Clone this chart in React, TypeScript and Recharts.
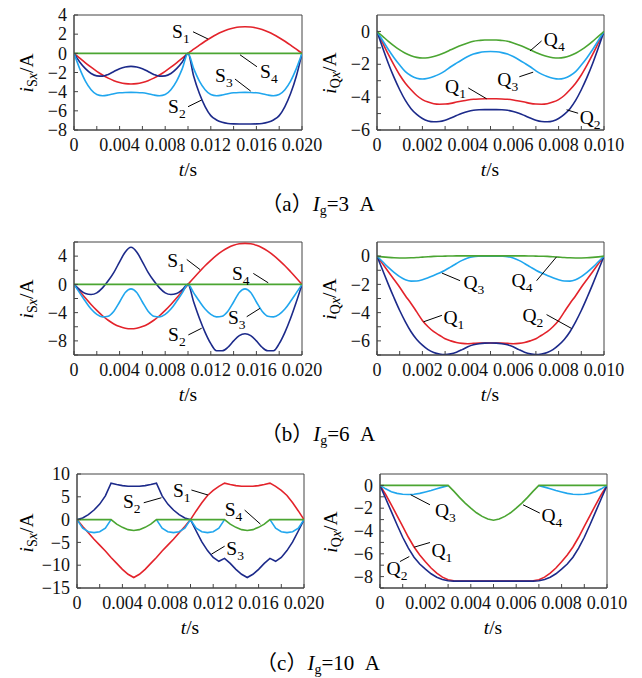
import React from 'react'
import { LineChart, Line, XAxis, YAxis, ReferenceArea, ReferenceLine, ReferenceDot } from 'recharts'

// time samples (s)
const tLong = [0, 0.0005, 0.001, 0.0015, 0.002, 0.0025, 0.003, 0.0035, 0.004, 0.0045, 0.005, 0.0055, 0.006, 0.0065, 0.007, 0.0075, 0.008, 0.0085, 0.009, 0.0095, 0.01, 0.0105, 0.011, 0.0115, 0.012, 0.0125, 0.013, 0.0135, 0.014, 0.0145, 0.015, 0.0155, 0.016, 0.0165, 0.017, 0.0175, 0.018, 0.0185, 0.019, 0.0195, 0.02]
const tShort = [0, 0.00025, 0.0005, 0.00075, 0.001, 0.00125, 0.0015, 0.00175, 0.002, 0.00225, 0.0025, 0.00275, 0.003, 0.00325, 0.0035, 0.00375, 0.004, 0.00425, 0.0045, 0.00475, 0.005, 0.00525, 0.0055, 0.00575, 0.006, 0.00625, 0.0065, 0.00675, 0.007, 0.00725, 0.0075, 0.00775, 0.008, 0.00825, 0.0085, 0.00875, 0.009, 0.00925, 0.0095, 0.00975, 0.01]

const xTicksLong = [0, 0.002, 0.004, 0.006, 0.008, 0.01, 0.012, 0.014, 0.016, 0.018, 0.02]
const xTicksShort = [0, 0.001, 0.002, 0.003, 0.004, 0.005, 0.006, 0.007, 0.008, 0.009, 0.01]

// (a) Ig = 3 A
const aS1 = [0, -0.5, -0.99, -1.45, -1.88, -2.26, -2.59, -2.85, -3.04, -3.16, -3.2, -3.16, -3.04, -2.85, -2.59, -2.26, -1.88, -1.45, -0.99, -0.5, 0, 0.43, 0.86, 1.26, 1.63, 1.97, 2.25, 2.48, 2.64, 2.75, 2.78, 2.75, 2.64, 2.48, 2.25, 1.97, 1.63, 1.26, 0.86, 0.43, 0]
const aS2 = [0, -0.9, -1.6, -2.1, -2.35, -2.38, -2.2, -1.9, -1.6, -1.42, -1.36, -1.42, -1.6, -1.9, -2.2, -2.38, -2.35, -2.1, -1.6, -0.9, 0, -2.4, -4.2, -5.55, -6.5, -6.95, -7.2, -7.32, -7.36, -7.37, -7.37, -7.37, -7.36, -7.32, -7.2, -6.95, -6.5, -5.55, -4.2, -2.4, 0]
const aS3 = [0, -1.6, -2.9, -3.8, -4.3, -4.42, -4.35, -4.22, -4.12, -4.08, -4.07, -4.08, -4.12, -4.22, -4.35, -4.42, -4.3, -3.8, -2.9, -1.6, 0, -1.6, -2.9, -3.8, -4.3, -4.42, -4.35, -4.22, -4.12, -4.08, -4.07, -4.08, -4.12, -4.22, -4.35, -4.42, -4.3, -3.8, -2.9, -1.6, 0]
const aS4 = [0, 0, 0, 0, 0, 0, 0, 0, 0, 0, 0, 0, 0, 0, 0, 0, 0, 0, 0, 0, 0, 0, 0, 0, 0, 0, 0, 0, 0, 0, 0, 0, 0, 0, 0, 0, 0, 0, 0, 0, 0]
const aQ1 = [0, -0.7, -1.4, -2.05, -2.65, -3.15, -3.55, -3.9, -4.15, -4.3, -4.4, -4.43, -4.42, -4.38, -4.3, -4.23, -4.17, -4.13, -4.11, -4.1, -4.1, -4.1, -4.11, -4.13, -4.17, -4.23, -4.3, -4.38, -4.42, -4.43, -4.4, -4.3, -4.15, -3.9, -3.55, -3.15, -2.65, -2.05, -1.4, -0.7, 0]
const aQ2 = [0, -1.0, -1.95, -2.8, -3.55, -4.2, -4.7, -5.05, -5.3, -5.45, -5.5, -5.48, -5.4, -5.27, -5.12, -4.98, -4.87, -4.8, -4.77, -4.76, -4.76, -4.76, -4.77, -4.8, -4.87, -4.98, -5.12, -5.27, -5.4, -5.48, -5.5, -5.45, -5.3, -5.05, -4.7, -4.2, -3.55, -2.8, -1.95, -1.0, 0]
const aQ3 = [0, -0.55, -1.1, -1.6, -2.05, -2.45, -2.7, -2.85, -2.9, -2.85, -2.75, -2.6, -2.4, -2.15, -1.93, -1.72, -1.53, -1.38, -1.29, -1.24, -1.22, -1.24, -1.29, -1.38, -1.53, -1.72, -1.93, -2.15, -2.4, -2.6, -2.75, -2.85, -2.9, -2.85, -2.7, -2.45, -2.05, -1.6, -1.1, -0.55, 0]
const aQ4 = [0, -0.3, -0.6, -0.88, -1.12, -1.33, -1.48, -1.58, -1.62, -1.6, -1.53, -1.42, -1.28, -1.12, -0.96, -0.82, -0.7, -0.6, -0.55, -0.52, -0.52, -0.52, -0.55, -0.6, -0.7, -0.82, -0.96, -1.12, -1.28, -1.42, -1.53, -1.6, -1.62, -1.58, -1.48, -1.33, -1.12, -0.88, -0.6, -0.3, 0]

// (b) Ig = 6 A
const bS1 = [0, -0.98, -1.94, -2.85, -3.69, -4.44, -5.08, -5.6, -5.97, -6.2, -6.28, -6.2, -5.97, -5.6, -5.08, -4.44, -3.69, -2.85, -1.94, -0.98, 0, 0.91, 1.79, 2.64, 3.41, 4.11, 4.7, 5.18, 5.53, 5.74, 5.81, 5.74, 5.53, 5.18, 4.7, 4.11, 3.41, 2.64, 1.79, 0.91, 0]
const bS2 = [0, -0.75, -1.3, -1.44, -1.2, -0.5, 0.5, 1.7, 3.2, 4.6, 5.25, 4.6, 3.2, 1.7, 0.5, -0.5, -1.2, -1.44, -1.3, -0.75, 0, -2.5, -4.8, -6.8, -8.4, -9.4, -9.4, -8.9, -8.0, -7.25, -7.0, -7.25, -8.0, -8.9, -9.4, -9.4, -8.4, -6.8, -4.8, -2.5, 0]
const bS3 = [0, -1.2, -2.4, -3.5, -4.25, -4.6, -4.5, -3.8, -2.5, -1.15, -0.64, -1.15, -2.5, -3.8, -4.5, -4.6, -4.25, -3.5, -2.4, -1.2, 0, -1.2, -2.4, -3.5, -4.25, -4.6, -4.5, -3.8, -2.5, -1.15, -0.64, -1.15, -2.5, -3.8, -4.5, -4.6, -4.25, -3.5, -2.4, -1.2, 0]
const bS4 = [0, 0, 0, 0, 0, 0, 0, 0, 0, 0, 0, 0, 0, 0, 0, 0, 0, 0, 0, 0, 0, 0, 0, 0, 0, 0, 0, 0, 0, 0, 0, 0, 0, 0, 0, 0, 0, 0, 0, 0, 0]
const bQ1 = [0, -0.55, -1.1, -1.65, -2.2, -2.8, -3.35, -3.95, -4.55, -5.0, -5.35, -5.6, -5.85, -6.0, -6.12, -6.18, -6.2, -6.18, -6.16, -6.15, -6.15, -6.15, -6.16, -6.18, -6.2, -6.18, -6.12, -6.0, -5.85, -5.6, -5.35, -5.0, -4.55, -3.95, -3.35, -2.8, -2.2, -1.65, -1.1, -0.55, 0]
const bQ2 = [0, -1.0, -2.0, -2.95, -3.85, -4.65, -5.35, -5.9, -6.3, -6.62, -6.82, -6.93, -6.97, -6.92, -6.8, -6.62, -6.42, -6.28, -6.2, -6.16, -6.15, -6.16, -6.2, -6.28, -6.42, -6.62, -6.8, -6.92, -6.97, -6.93, -6.82, -6.62, -6.3, -5.9, -5.35, -4.65, -3.85, -2.95, -2.0, -1.0, 0]
const bQ3 = [0, -0.4, -0.8, -1.15, -1.45, -1.67, -1.77, -1.76, -1.67, -1.53, -1.37, -1.2, -1.0, -0.76, -0.52, -0.3, -0.13, -0.04, -0.01, 0, 0, 0, -0.01, -0.04, -0.13, -0.3, -0.52, -0.76, -1.0, -1.2, -1.37, -1.53, -1.67, -1.76, -1.77, -1.67, -1.45, -1.15, -0.8, -0.4, 0]
const bQ4 = [0, -0.05, -0.09, -0.12, -0.13, -0.13, -0.12, -0.1, -0.07, -0.04, -0.02, -0.01, 0, 0.01, 0.02, 0.02, 0.02, 0.02, 0.02, 0.02, 0.02, 0.02, 0.02, 0.02, 0.02, 0.02, 0.02, 0.01, 0, -0.01, -0.02, -0.04, -0.07, -0.1, -0.12, -0.13, -0.13, -0.12, -0.09, -0.05, 0]

// (c) Ig = 10 A  (navy / sky lines swap labels between half periods)
const cS1 = [0, -1.5, -2.9, -4.3, -5.6, -6.9, -8.3, -9.6, -10.9, -12.0, -12.7, -12.0, -10.9, -9.6, -8.3, -6.9, -5.6, -4.3, -2.9, -1.5, 0, 1.9, 3.7, 5.3, 6.4, 7.3, 8.0, 7.7, 7.45, 7.32, 7.3, 7.32, 7.45, 7.7, 8.0, 7.3, 6.4, 5.3, 3.7, 1.9, 0]
const cNavy = [0, 0.35, 1.1, 2.1, 3.4, 5.2, 8.0, 7.7, 7.45, 7.32, 7.3, 7.32, 7.45, 7.7, 8.0, 5.2, 3.4, 2.1, 1.1, 0.35, 0, -2.5, -4.9, -6.8, -8.3, -9.15, -8.5, -9.6, -10.9, -12.0, -12.7, -12.0, -10.9, -9.6, -8.5, -9.15, -8.3, -6.8, -4.9, -2.5, 0]
const cSky = [0, -1.9, -2.65, -2.85, -2.65, -1.9, 0, null, null, null, null, null, null, null, 0, -1.9, -2.65, -2.85, -2.65, -1.9, 0, -1.9, -2.65, -2.85, -2.65, -1.9, 0, null, null, null, null, null, null, null, 0, -1.9, -2.65, -2.85, -2.65, -1.9, 0]
const cS4 = [0, 0, 0, 0, 0, 0, 0, -1.0, -1.7, -2.2, -2.4, -2.2, -1.7, -1.0, 0, 0, 0, 0, 0, 0, 0, 0, 0, 0, 0, 0, 0, -1.0, -1.7, -2.2, -2.4, -2.2, -1.7, -1.0, 0, 0, 0, 0, 0, 0, 0]
const cQ1 = [0, -0.8, -1.7, -2.65, -3.6, -4.55, -5.4, -6.1, -6.7, -7.25, -7.7, -8.05, -8.27, -8.37, -8.4, -8.4, -8.4, -8.4, -8.4, -8.4, -8.4, -8.4, -8.4, -8.4, -8.4, -8.4, -8.4, -8.37, -8.27, -8.05, -7.7, -7.25, -6.7, -6.1, -5.4, -4.55, -3.6, -2.65, -1.7, -0.8, 0]
const cQ2 = [0, -1.15, -2.3, -3.45, -4.55, -5.5, -6.3, -6.9, -7.35, -7.75, -8.05, -8.25, -8.37, -8.4, -8.4, -8.4, -8.4, -8.4, -8.4, -8.4, -8.4, -8.4, -8.4, -8.4, -8.4, -8.4, -8.4, -8.4, -8.37, -8.25, -8.05, -7.75, -7.35, -6.9, -6.3, -5.5, -4.55, -3.45, -2.3, -1.15, 0]
const cQ3 = [0, -0.3, -0.55, -0.7, -0.78, -0.8, -0.77, -0.7, -0.58, -0.45, -0.3, -0.15, -0.03, null, null, null, null, null, null, null, null, null, null, null, null, null, null, null, -0.03, -0.15, -0.3, -0.45, -0.58, -0.7, -0.77, -0.8, -0.78, -0.7, -0.55, -0.3, 0]
const cQ4 = [0, 0, 0, 0, 0, 0, 0, 0, 0, 0, 0, 0, 0, -0.5, -1.05, -1.55, -2.0, -2.4, -2.72, -2.95, -3.05, -2.95, -2.72, -2.4, -2.0, -1.55, -1.05, -0.5, 0, 0, 0, 0, 0, 0, 0, 0, 0, 0, 0, 0, 0]

const RED = '#e3232b'
const NAVY = '#1c2a8a'
const SKY = '#20a6ee'
const GREEN = '#4ba532'
const FONT = '"Liberation Serif", "Times New Roman", serif'
const TICK_FS = 18

const YW = 70
const MT = 10
const MR = 30
const XH = 30

type Series = { key: string; values: (number | null)[]; color: string }
type Note = { name: string; sub: string; at: [number, number]; lead: [number, number, number, number] }

function NoteLabel(props: any) {
  const vb = props.viewBox || {}
  return (
    <text x={vb.x} y={vb.y} fontSize={19.5} fill="#000" fontFamily={FONT}>
      {props.name}
      <tspan dy={5} fontSize={13.5}>{props.sub}</tspan>
    </text>
  )
}

function XTick(props: any) {
  const { x, y, payload, fmt } = props
  return (
    <text x={x} y={y} dy={12.5} textAnchor="middle" fontSize={TICK_FS} fontFamily={FONT} fill="#111">
      {fmt(payload.value)}
    </text>
  )
}

function YTick(props: any) {
  const { x, y, payload, fmt } = props
  return (
    <text x={x} y={y} dy={6.2} textAnchor="end" fontSize={TICK_FS} fontFamily={FONT} fill="#111">
      {fmt(payload.value)}
    </text>
  )
}

function Panel(p: {
  left: number; top: number; w: number; h: number
  times: number[]; xTicks: number[]; xEvery: number
  yDomain: [number, number]; yTicks: number[]; yLabeled: number[]
  curve: 'monotone' | 'linear'; series: Series[]; notes: Note[]
}) {
  const data = p.times.map((t, i) => {
    const row: any = { t }
    p.series.forEach(s => { row[s.key] = s.values[i] })
    return row
  })
  const xMax = p.xTicks[p.xTicks.length - 1]
  const fmtX = (v: number) => {
    const k = Math.round(v * 1000)
    if (k % p.xEvery !== 0) return ''
    return k === 0 ? '0' : (k / 1000).toFixed(3)
  }
  const fmtY = (v: number) => {
    if (!p.yLabeled.includes(v)) return ''
    return v < 0 ? '\u2212' + (-v) : String(v)
  }
  return (
    <div style={{ position: 'absolute', left: p.left - YW, top: p.top - MT }}>
      <LineChart width={p.w + YW + MR} height={p.h + MT + XH} data={data}
        margin={{ top: MT, right: MR, left: 0, bottom: 0 }}>
        <XAxis dataKey="t" type="number" domain={[0, xMax]} ticks={p.xTicks} interval={0}
          tickSize={-4} tickMargin={12} height={XH} allowDataOverflow
          stroke="#444" tick={<XTick fmt={fmtX} />} />
        <YAxis type="number" domain={p.yDomain} ticks={p.yTicks} interval={0}
          tickSize={-4} tickMargin={11} width={YW} allowDataOverflow
          stroke="#444" tick={<YTick fmt={fmtY} />} />
        <ReferenceArea x1={0} x2={xMax} y1={p.yDomain[0]} y2={p.yDomain[1]}
          fill="none" stroke="#444" strokeWidth={1} ifOverflow="visible" />
        {p.series.map(s => (
          <Line key={s.key} dataKey={s.key} type={p.curve} stroke={s.color} strokeWidth={1.6}
            dot={false} activeDot={false} isAnimationActive={false} connectNulls={false} />
        ))}
        {p.notes.map((n, i) => (
          <ReferenceLine key={'l' + i} ifOverflow="visible" stroke="#000" strokeWidth={1}
            segment={[{ x: n.lead[0], y: n.lead[1] }, { x: n.lead[2], y: n.lead[3] }]} />
        ))}
        {p.notes.map((n, i) => (
          <ReferenceDot key={'d' + i} x={n.at[0]} y={n.at[1]} r={0} fill="none" stroke="none"
            ifOverflow="visible" label={<NoteLabel name={n.name} sub={n.sub} />} />
        ))}
      </LineChart>
    </div>
  )
}

function YTitle({ x, y, q }: { x: number; y: number; q: string }) {
  return (
    <text transform={`translate(${x},${y}) rotate(-90)`} textAnchor="middle" fontSize={19.5} fontFamily={FONT}>
      <tspan fontStyle="italic">i</tspan>
      <tspan dy={4} fontSize={14}>{q}</tspan>
      <tspan fontSize={14} fontStyle="italic">x</tspan>
      <tspan dy={-4}>/A</tspan>
    </text>
  )
}

function XTitle({ x, y }: { x: number; y: number }) {
  return (
    <text x={x} y={y} textAnchor="middle" fontSize={19.5} fontFamily={FONT}>
      <tspan fontStyle="italic">t</tspan>/s
    </text>
  )
}

function Caption({ y, tag, amps }: { y: number; tag: string; amps: string }) {
  return (
    <text x={318} y={y} textAnchor="middle" fontSize={21} fontFamily={'"Liberation Serif", "Noto Sans CJK SC", serif'}>
      {'\uff08' + tag + '\uff09'}
      <tspan fontStyle="italic">I</tspan>
      <tspan dy={4} fontSize={14}>g</tspan>
      <tspan dy={-4}>{'=' + amps + '\u2002A'}</tspan>
    </text>
  )
}

export default function App() {
  const left = { times: tLong, xTicks: xTicksLong, xEvery: 4 }
  const right = { times: tShort, xTicks: xTicksShort, xEvery: 2 }
  return (
    <div style={{ position: 'absolute', left: 0, top: 0, width: 642, height: 678, background: '#fff', fontFamily: FONT }}>
      <Panel {...left} left={74} top={15} w={228} h={115} curve="monotone"
        yDomain={[-8, 4]} yTicks={[-8, -6, -4, -2, 0, 2, 4]} yLabeled={[-8, -6, -4, -2, 0, 2, 4]}
        series={[{ key: 's1', values: aS1, color: RED }, { key: 's2', values: aS2, color: NAVY }, { key: 's3', values: aS3, color: SKY }, { key: 's4', values: aS4, color: GREEN }]}
        notes={[
          { name: 'S', sub: '1', at: [0.0086, 1.6], lead: [0.01044, 2.25, 0.01175, 1.5] },
          { name: 'S', sub: '4', at: [0.01632, -2.58], lead: [0.01456, -0.15, 0.01605, -1.4] },
          { name: 'S', sub: '3', at: [0.01237, -3.0], lead: [0.01412, -2.68, 0.0155, -3.94] },
          { name: 'S', sub: '2', at: [0.00825, -6.26], lead: [0.01, -5.57, 0.0112, -4.87] },
        ]} />
      <Panel {...right} left={377} top={15} w={227} h={115} curve="monotone"
        yDomain={[-6, 1]} yTicks={[-6, -5, -4, -3, -2, -1, 0]} yLabeled={[-6, -4, -2, 0]}
        series={[{ key: 'q1', values: aQ1, color: RED }, { key: 'q2', values: aQ2, color: NAVY }, { key: 'q3', values: aQ3, color: SKY }, { key: 'q4', values: aQ4, color: GREEN }]}
        notes={[
          { name: 'Q', sub: '4', at: [0.00735, -0.9], lead: [0.00725, -0.58, 0.00674, -1.19] },
          { name: 'Q', sub: '3', at: [0.0053, -3.3], lead: [0.00627, -2.76, 0.00688, -2.48] },
          { name: 'Q', sub: '1', at: [0.003, -3.73], lead: [0.00402, -3.44, 0.00483, -4.1] },
          { name: 'Q', sub: '2', at: [0.00893, -5.66], lead: [0.00886, -4.98, 0.00835, -4.77] },
        ]} />
      <Panel {...left} left={74} top={242} w={228} h={113} curve="monotone"
        yDomain={[-10, 6]} yTicks={[-10, -8, -6, -4, -2, 0, 2, 4, 6]} yLabeled={[-8, -4, 0, 4]}
        series={[{ key: 's1', values: bS1, color: RED }, { key: 's2', values: bS2, color: NAVY }, { key: 's3', values: bS3, color: SKY }, { key: 's4', values: bS4, color: GREEN }]}
        notes={[
          { name: 'S', sub: '1', at: [0.00819, 2.4], lead: [0.00989, 3.53, 0.01105, 2.1] },
          { name: 'S', sub: '4', at: [0.01386, 0.6], lead: [0.01573, 1.55, 0.01704, 0.22] },
          { name: 'S', sub: '3', at: [0.01351, -5.6], lead: [0.01515, -4.58, 0.01632, -3.39] },
          { name: 'S', sub: '2', at: [0.00825, -7.96], lead: [0.01003, -7.16, 0.0112, -6.21] },
        ]} />
      <Panel {...right} left={377} top={242} w={227} h={113} curve="monotone"
        yDomain={[-7, 1]} yTicks={[-7, -6, -5, -4, -3, -2, -1, 0]} yLabeled={[-6, -4, -2, 0]}
        series={[{ key: 'q1', values: bQ1, color: RED }, { key: 'q2', values: bQ2, color: NAVY }, { key: 'q3', values: bQ3, color: SKY }, { key: 'q4', values: bQ4, color: GREEN }]}
        notes={[
          { name: 'Q', sub: '3', at: [0.00381, -2.32], lead: [0.00286, -1.2, 0.00366, -1.74] },
          { name: 'Q', sub: '4', at: [0.00593, -2.16], lead: [0.00703, -1.74, 0.00791, -0.05] },
          { name: 'Q', sub: '1', at: [0.00293, -4.77], lead: [0.00286, -4.19, 0.00205, -4.65] },
          { name: 'Q', sub: '2', at: [0.00641, -4.65], lead: [0.00747, -4.14, 0.00857, -5.12] },
        ]} />
      <Panel {...left} left={77} top={474} w={227} h={114} curve="linear"
        yDomain={[-15, 10]} yTicks={[-15, -10, -5, 0, 5, 10]} yLabeled={[-15, -10, -5, 0, 5, 10]}
        series={[{ key: 's1', values: cS1, color: RED }, { key: 'navy', values: cNavy, color: NAVY }, { key: 'sky', values: cSky, color: SKY }, { key: 's4', values: cS4, color: GREEN }]}
        notes={[
          { name: 'S', sub: '2', at: [0.00405, 2.46], lead: [0.00588, 3.69, 0.00744, 4.79] },
          { name: 'S', sub: '1', at: [0.00845, 5.01], lead: [0.01008, 6.49, 0.01154, 5.39] },
          { name: 'S', sub: '4', at: [0.01301, 0.77], lead: [0.01477, 2.09, 0.01616, -0.99] },
          { name: 'S', sub: '3', at: [0.01316, -7.8], lead: [0.01301, -5.83, 0.01184, -7.59] },
        ]} />
      <Panel {...right} left={380} top={474} w={227} h={114} curve="linear"
        yDomain={[-9, 1]} yTicks={[-9, -8, -7, -6, -5, -4, -3, -2, -1, 0]} yLabeled={[-8, -6, -4, -2, 0]}
        series={[{ key: 'q1', values: cQ1, color: RED }, { key: 'q2', values: cQ2, color: NAVY }, { key: 'q3', values: cQ3, color: SKY }, { key: 'q4', values: cQ4, color: GREEN }]}
        notes={[
          { name: 'Q', sub: '3', at: [0.00242, -2.78], lead: [0.00135, -0.82, 0.0022, -1.7] },
          { name: 'Q', sub: '4', at: [0.00711, -3.22], lead: [0.00704, -2.43, 0.0063, -1.7] },
          { name: 'Q', sub: '1', at: [0.00227, -6.29], lead: [0.0022, -5.01, 0.0015, -5.42] },
          { name: 'Q', sub: '2', at: [0.00029, -7.85], lead: [0.00088, -6.68, 0.00129, -6.24] },
        ]} />
      <svg width={642} height={678} style={{ position: 'absolute', left: 0, top: 0, pointerEvents: 'none' }}>
        <YTitle x={33} y={73} q="S" />
        <YTitle x={336} y={73} q="Q" />
        <YTitle x={33} y={299} q="S" />
        <YTitle x={336} y={299} q="Q" />
        <YTitle x={33} y={533} q="S" />
        <YTitle x={337} y={532} q="Q" />
        <XTitle x={188} y={176} />
        <XTitle x={490} y={176} />
        <XTitle x={188} y={401} />
        <XTitle x={490} y={401} />
        <XTitle x={190} y={634} />
        <XTitle x={493} y={634} />
        <Caption y={211} tag="a" amps="3" />
        <Caption y={441} tag="b" amps="6" />
        <Caption y={670} tag="c" amps="10" />
      </svg>
    </div>
  )
}
